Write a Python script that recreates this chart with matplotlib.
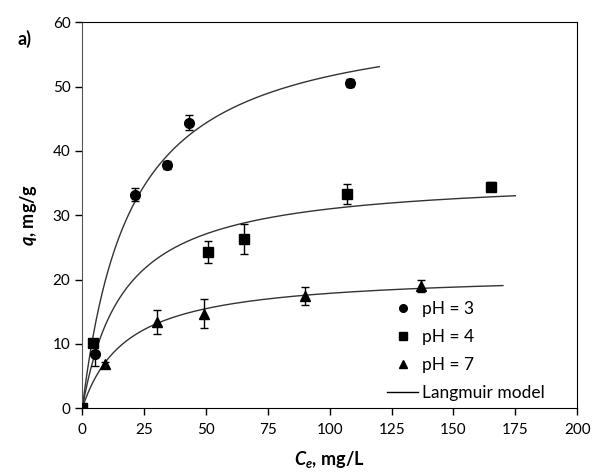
import matplotlib.pyplot as plt
from matplotlib.lines import Line2D
import numpy as np

plt.rcParams["font.family"] = ["Lato", "DejaVu Sans"]
plt.rcParams["mathtext.fontset"] = "custom"
plt.rcParams["mathtext.bfit"] = "Lato:bold:italic"
plt.rcParams["mathtext.rm"] = "Lato:bold"

# pH = 3
ce_ph3 = [0, 5.0, 21.4, 34.2, 43.0, 108.0]
q_ph3 = [0, 8.5, 33.2, 37.8, 44.4, 50.5]
err_ph3 = [0, 2.0, 1.0, 0.6, 1.2, 0.6]

# pH = 4
ce_ph4 = [0, 4.2, 51.0, 65.2, 106.9, 165.3]
q_ph4 = [0, 10.2, 24.3, 26.3, 33.3, 34.4]
err_ph4 = [0, 0.4, 1.7, 2.3, 1.5, 0.7]

# pH = 7
ce_ph7 = [0, 9.3, 30.2, 49.0, 89.8, 136.8]
q_ph7 = [0, 6.8, 13.4, 14.7, 17.5, 19.0]
err_ph7 = [0, 0.4, 1.8, 2.3, 1.4, 0.9]

# Langmuir fits: qmax (mg/g), K (L/mg), upper end of plotted range
qmax = [61.8, 36.2, 21.1]
k_lang = [0.0508, 0.0595, 0.0551]
c_end = [120, 175, 170]

labels = ["pH = 3", "pH = 4", "pH = 7"]
markers = ["o", "s", "^"]

fig, ax = plt.subplots(figsize=(5.92, 4.73), dpi=100)
fig.subplots_adjust(left=0.139, right=0.975, top=0.953, bottom=0.137)

for qm, k, ce_max in zip(qmax, k_lang, c_end):
    c = np.linspace(0, ce_max, 300)
    ax.plot(c, qm * k * c / (1 + k * c), color="#333333", lw=1.0, zorder=2)

series = [(ce_ph3, q_ph3, err_ph3), (ce_ph4, q_ph4, err_ph4), (ce_ph7, q_ph7, err_ph7)]
for (x, y, e), m in zip(series, markers):
    ax.errorbar(x, y, yerr=e, fmt=m, color="black", ms=7 if m != "^" else 7.5,
                ecolor="black", elinewidth=1, capsize=3, capthick=1, zorder=3)

ax.set_xlim(0, 200)
ax.set_ylim(0, 60)
ax.set_xticks(range(0, 201, 25))
ax.set_yticks(range(0, 61, 10))
ax.tick_params(direction="out", length=5, width=1, labelsize=11, colors="black",
               top=False, right=False)
ax.tick_params(axis="x", pad=6)
for side in ["top", "right", "bottom"]:
    ax.spines[side].set_color("black")
ax.spines["left"].set_color("#555555")

ax.set_xlabel(r"$\mathbfit{C}_\mathbfit{e}$, mg/L", fontsize=13, fontweight="bold", labelpad=8)
ax.set_ylabel(r"$\mathbfit{q}$, mg/g", fontsize=13, fontweight="bold", labelpad=10)
fig.text(0.03, 0.905, "a)", fontsize=13, fontweight="bold")

handles = [Line2D([], [], marker=m, ls="none", color="black", ms=5.5) for m in markers]
handles.append(Line2D([], [], color="black", lw=1))
ax.legend(handles, labels + ["Langmuir model"], loc="lower left",
          bbox_to_anchor=(0.602, 0.0), borderaxespad=0, frameon=False, fontsize=12.5,
          handlelength=1.8, handletextpad=0.2, labelspacing=0.7)

fig.savefig("out.png", dpi=100)
plt.close(fig)
